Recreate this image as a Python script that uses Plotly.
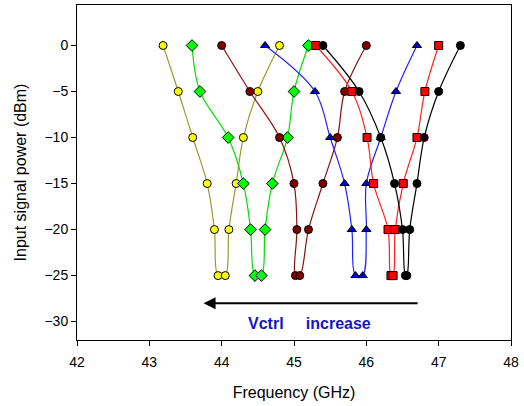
import plotly.graph_objects as go

power = [0, -5, -10, -15, -20, -25, -25, -20, -15, -10, -5, 0]

freq_yellow = [43.19, 43.40, 43.60, 43.80, 43.90, 43.95, 44.05, 44.10, 44.20, 44.30, 44.50, 44.80]
freq_green = [43.59, 43.70, 44.09, 44.30, 44.40, 44.46, 44.55, 44.60, 44.70, 44.91, 45.00, 45.20]
freq_darkred = [44.00, 44.39, 44.80, 45.00, 45.04, 45.02, 45.08, 45.20, 45.40, 45.60, 45.70, 46.00]
freq_blue = [44.60, 45.29, 45.50, 45.70, 45.80, 45.85, 45.95, 46.00, 46.00, 46.20, 46.41, 46.70]
freq_red = [45.30, 45.80, 46.01, 46.10, 46.30, 46.34, 46.37, 46.40, 46.51, 46.70, 46.81, 47.00]
freq_black = [45.40, 45.90, 46.20, 46.39, 46.50, 46.54, 46.56, 46.60, 46.70, 46.80, 47.00, 47.30]

x_ticks = [42, 43, 44, 45, 46, 47, 48]
y_ticks = [0, -5, -10, -15, -20, -25, -30]

series = [
    (freq_yellow, "#A09828", "#FFFF00", "circle", 8),
    (freq_green, "#00E000", "#00FF00", "diamond", 9),
    (freq_darkred, "#8B1010", "#800000", "circle", 8),
    (freq_blue, "#2020FF", "#0000CC", "triangle-up", 8),
    (freq_red, "#FF2020", "#FF0000", "square", 8),
    (freq_black, "#000000", "#000000", "circle", 8),
]

fig = go.Figure()
for fx, lc, mc, sym, sz in series:
    fig.add_trace(go.Scatter(
        x=fx, y=power, mode="lines+markers",
        line=dict(color=lc, width=1.2, shape="spline", smoothing=1.0),
        marker=dict(symbol=sym, size=sz, color=mc, line=dict(color="#000000", width=1)),
        showlegend=False,
    ))

fig.add_annotation(
    x=43.75, y=-28.0, ax=46.73, ay=-28.0,
    xref="x", yref="y", axref="x", ayref="y",
    showarrow=True, arrowhead=2, arrowsize=1.2, arrowwidth=2, arrowcolor="#000000",
    text="",
)
fig.add_annotation(
    x=45.21, y=-30.2, xref="x", yref="y", showarrow=False,
    text="<b>Vctrl&nbsp;&nbsp;&nbsp;&nbsp;&nbsp;increase</b>",
    font=dict(family="Liberation Sans, Arial", size=16, color="#1414C8"),
)

axis_common = dict(
    showline=True, linecolor="#000000", linewidth=1, mirror=True,
    ticks="outside", ticklen=5, tickcolor="#000000", showgrid=False, zeroline=False,
    automargin=False,
    tickfont=dict(family="Liberation Sans, Arial", size=14, color="#000000"),
)

fig.update_layout(
    width=524, height=406,
    margin=dict(l=77, r=13, t=5, b=66),
    paper_bgcolor="white", plot_bgcolor="white",
    xaxis=dict(range=[42, 48], tickvals=x_ticks, ticklabelstandoff=4,
               title=dict(text="Frequency (GHz)", font=dict(family="Liberation Sans, Arial", size=16, color="#000000"), standoff=18),
               **axis_common),
    yaxis=dict(range=[-32, 4.4], tickvals=y_ticks,
               title=dict(text="Input signal power (dBm)", font=dict(family="Liberation Sans, Arial", size=16, color="#000000"), standoff=13),
               **axis_common),
)

fig.write_html("out.html", config={"displayModeBar": False},
               post_script="document.body.style.margin='0';document.body.style.overflow='hidden';")
